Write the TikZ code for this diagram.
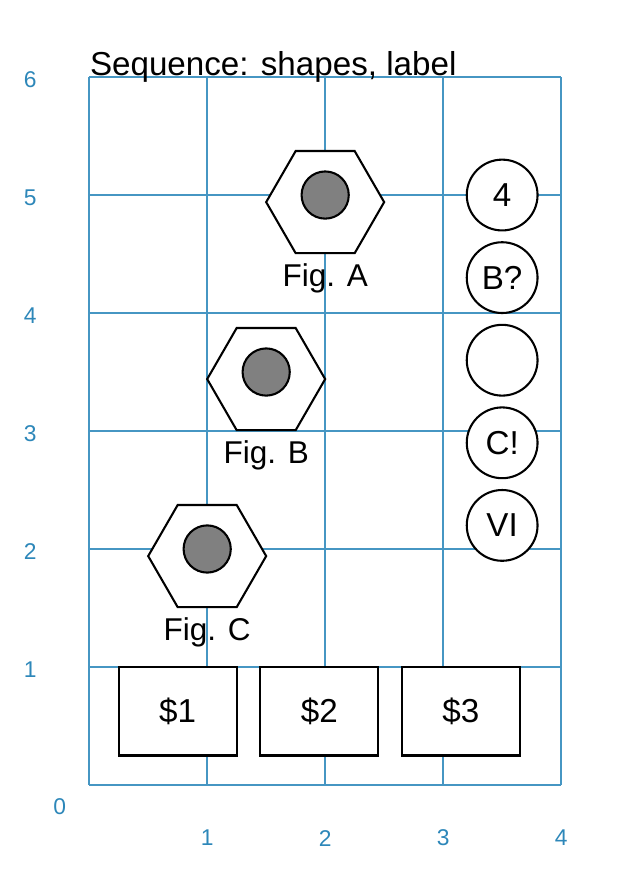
\documentclass[tikz,border=0pt]{standalone}
\usepackage{fontspec}
\setmainfont{Liberation Sans}
\usetikzlibrary{shapes.geometric}
\definecolor{gridc}{RGB}{70,150,195}
\definecolor{axc}{RGB}{45,135,185}
\tikzset{
  gridline/.style={draw=gridc, line width=0.35pt},
  axlabel/.style={text=axc, font=\fontsize{5.5}{6}\selectfont, inner sep=0},
  hexbox/.style={regular polygon, regular polygon sides=6, draw=black, line width=0.5pt, minimum size=1cm, inner sep=0, fill=white},
  hub/.style={circle, draw=black, line width=0.5pt, fill={rgb,255:red,128;green,128;blue,128}, minimum size=0.4cm, inner sep=0},
  figlabel/.style={font=\fontsize{7.6}{9}\selectfont, inner sep=0, anchor=base},
  disc/.style={circle, draw=black, line width=0.5pt, fill=white, minimum size=0.6cm, inner sep=0, font=\fontsize{8}{9}\selectfont},
  cashbox/.style={rectangle, draw=black, line width=0.5pt, fill=white, minimum width=1cm, minimum height=0.75cm, inner sep=0, font=\fontsize{8}{9}\selectfont},
}
\begin{document}
\begin{tikzpicture}
\useasboundingbox (-0.756,-0.763) rectangle (4.467,6.653);
% grid
\draw[gridline] (0,0) grid (4,6);
% axis labels
\node[axlabel] (y0) at (-0.25,-0.18) {0};
\foreach \y in {1,...,6} {\node[axlabel] (y\y) at (-0.5,\y-0.02) {\y};}
\foreach \x in {1,...,4} {\node[axlabel] (x\x) at (\x,-0.45) {\x};}
% title
\node[anchor=base west, inner sep=0, font=\fontsize{8}{10}\selectfont] (title) at (0,6.01) {Sequence: shapes, label};
% hexagons
\node[hexbox] (hexA) at (2,4.94) {};
\node[hub] (hubA) at (2,5) {};
\node[figlabel] (figA) at (2,4.223) {Fig. A};
\node[hexbox] (hexB) at (1.5,3.44) {};
\node[hub] (hubB) at (1.5,3.5) {};
\node[figlabel] (figB) at (1.5,2.725) {Fig. B};
\node[hexbox] (hexC) at (1,1.94) {};
\node[hub] (hubC) at (1,2) {};
\node[figlabel] (figC) at (1,1.222) {Fig. C};
% circles
\node[disc] (c1) at (3.5,5) {4};
\node[disc] (c2) at (3.5,4.3) {B?};
\node[disc] (c3) at (3.5,3.6) {};
\node[disc] (c4) at (3.5,2.9) {C!};
\node[disc] (c5) at (3.5,2.2) {VI};
% boxes
\node[cashbox] (b1) at (0.75,0.625) {\$1};
\node[cashbox] (b2) at (1.95,0.625) {\$2};
\node[cashbox] (b3) at (3.15,0.625) {\$3};
\end{tikzpicture}
\end{document}
